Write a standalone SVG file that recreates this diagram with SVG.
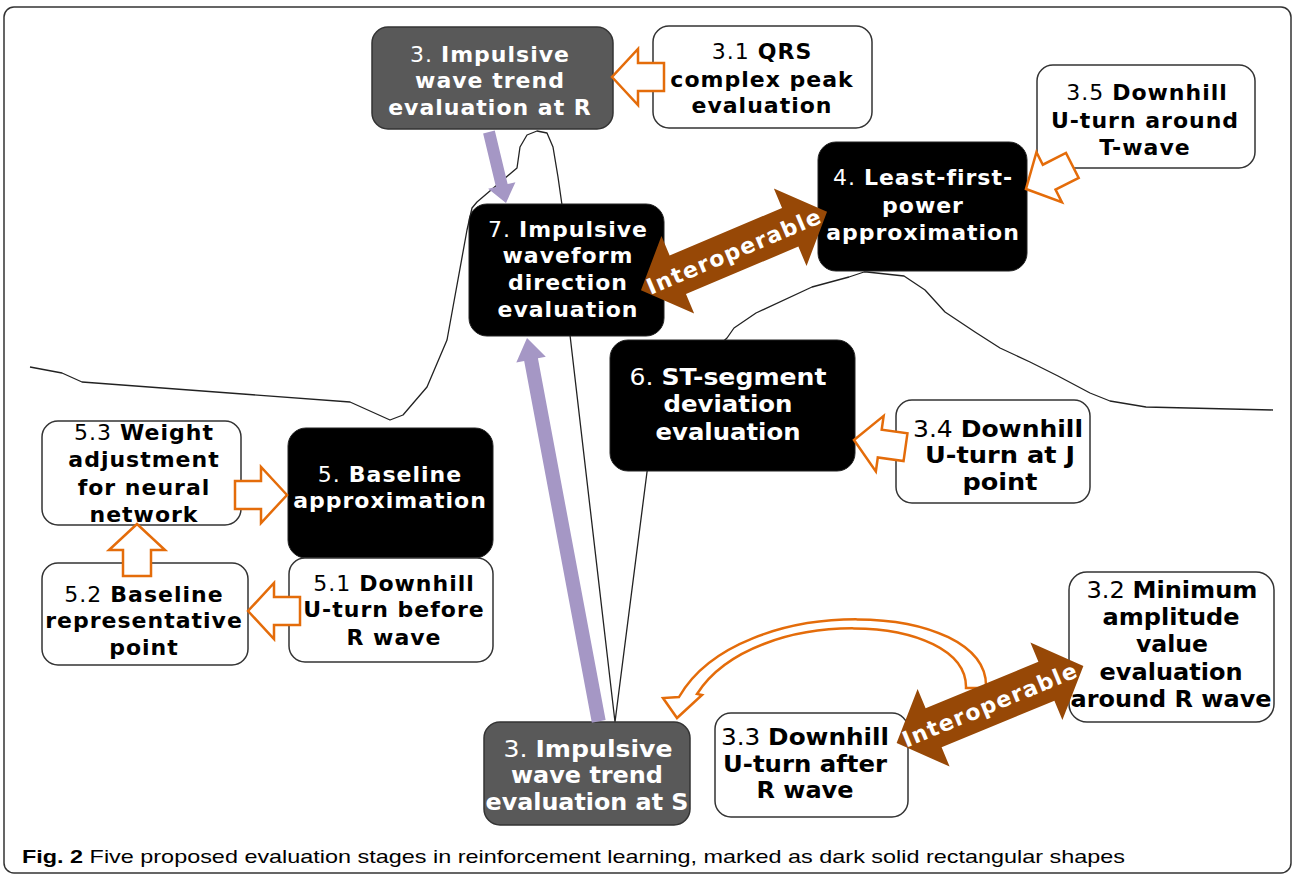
<svg xmlns="http://www.w3.org/2000/svg" xmlns:xlink="http://www.w3.org/1999/xlink" width="1295" height="876" viewBox="0 0 1295 876">
<style>
.bg{fill:#fff}
.frame{fill:none;stroke:#333;stroke-width:1.5}
.wb{fill:#fff;stroke:#333;stroke-width:1.5}
.db{fill:#595959;stroke:#333;stroke-width:1.5}
.bb{fill:#000;stroke:#222;stroke-width:1}
.t{font-family:"DejaVu Sans",Verdana,sans-serif;font-size:22px;font-weight:bold;letter-spacing:1px;text-anchor:middle}
.c{font-family:"DejaVu Sans",Verdana,sans-serif;font-size:23px;font-weight:bold;text-anchor:middle}
.n{font-weight:normal}
.w{fill:#fff}
.k{fill:#000}
.ecg{fill:none;stroke:#222;stroke-width:1.3;stroke-linejoin:round}
.oa{fill:#fff;stroke:#E46C0A;stroke-width:2.5;stroke-linejoin:miter}
.pa{fill:#A597C5}
.ba{fill:#974806}
.bt{font-family:"DejaVu Sans",Verdana,sans-serif;font-size:22px;font-weight:bold;letter-spacing:1.4px;fill:#fff;text-anchor:middle}
.cap{font-family:"Liberation Sans",Arial,sans-serif;font-size:19px;fill:#000}
</style>
<defs>
<path id="oarrow" d="M0,0 L-26,-28 L-26,-14 L-52,-14 L-52,14 L-26,14 L-26,28 Z"/>
<path id="dbl" d="M-101,0 L-61,-42 L-61,-21 L61,-21 L61,-42 L101,0 L61,42 L61,21 L-61,21 L-61,42 Z"/>
</defs>
<rect class="bg" x="0" y="0" width="1295" height="876"/>
<rect class="frame" x="4" y="7" width="1287" height="866" rx="10"/>

<g id="ecg-trace">
<polyline class="ecg" points="30,367 62,373 82,382 350,402 390,420 403,415 427,387 447,340 453,307 467,230 472,208 477,202 517,168 520,147 527,135 537,131 547,133 553,147 558,177 562,205 570,335 615,722 647,472 660,400 727,338 734,328 756,313 812,287 849,277 864,272 867,272 904,276 925,290 945,312 975,332 1000,348 1030,362 1058,376 1090,393 1110,401 1146,407 1273,410"/>
</g>

<g id="n3R">
<rect class="db" x="372" y="27" width="241" height="102" rx="16"/>
<text class="t w" x="490" y="62"><tspan class="n">3. </tspan>Impulsive</text>
<text class="t w" x="490" y="88">wave trend</text>
<text class="t w" x="490" y="115">evaluation at R</text>
</g>
<g id="n3-1">
<rect class="wb" x="653" y="26" width="219" height="102" rx="16"/>
<text class="t k" x="762" y="59"><tspan class="n">3.1 </tspan>QRS</text>
<text class="t k" x="762" y="87">complex peak</text>
<text class="t k" x="762" y="113">evaluation</text>
</g>
<g id="n7">
<rect class="bb" x="469" y="204" width="195" height="132" rx="18"/>
<text class="t w" x="568" y="237"><tspan class="n">7. </tspan>Impulsive</text>
<text class="t w" x="568" y="263">waveform</text>
<text class="t w" x="568" y="290">direction</text>
<text class="t w" x="568" y="317">evaluation</text>
</g>
<g id="n4">
<rect class="bb" x="818" y="142" width="209" height="129" rx="18"/>
<text class="t w" x="923" y="185"><tspan class="n">4. </tspan>Least-first-</text>
<text class="t w" x="923" y="213">power</text>
<text class="t w" x="923" y="240">approximation</text>
</g>
<g id="n3-5">
<rect class="wb" x="1037" y="65" width="218" height="103" rx="16"/>
<text class="t k" x="1147" y="100"><tspan class="n">3.5 </tspan>Downhill</text>
<text class="t k" x="1145" y="128">U-turn around</text>
<text class="t k" x="1145" y="155">T-wave</text>
</g>
<g id="n6">
<rect class="bb" x="610" y="340" width="245" height="131" rx="18"/>
<text class="c w" x="728" y="385" textLength="197" lengthAdjust="spacingAndGlyphs"><tspan class="n">6. </tspan>ST-segment</text>
<text class="c w" x="728" y="412" textLength="129" lengthAdjust="spacingAndGlyphs">deviation</text>
<text class="c w" x="728" y="440" textLength="145" lengthAdjust="spacingAndGlyphs">evaluation</text>
</g>
<g id="n3-4">
<rect class="wb" x="896" y="400" width="194" height="103" rx="16"/>
<text class="c k" x="998" y="437" textLength="170" lengthAdjust="spacingAndGlyphs"><tspan class="n">3.4 </tspan>Downhill</text>
<text class="c k" x="1000" y="463" textLength="150" lengthAdjust="spacingAndGlyphs">U-turn at J</text>
<text class="c k" x="1000" y="490" textLength="75" lengthAdjust="spacingAndGlyphs">point</text>
</g>
<g id="n5">
<rect class="bb" x="288" y="428" width="205" height="130" rx="18"/>
<text class="t w" x="390" y="482"><tspan class="n">5. </tspan>Baseline</text>
<text class="t w" x="390" y="508">approximation</text>
</g>
<g id="n5-3">
<rect class="wb" x="42" y="421" width="199" height="104" rx="16"/>
<text class="t k" x="144" y="440"><tspan class="n">5.3 </tspan>Weight</text>
<text class="t k" x="144" y="467">adjustment</text>
<text class="t k" x="144" y="495">for neural</text>
<text class="t k" x="144" y="522">network</text>
</g>
<g id="n5-2">
<rect class="wb" x="42" y="563" width="206" height="102" rx="16"/>
<text class="t k" x="144" y="602"><tspan class="n">5.2 </tspan>Baseline</text>
<text class="t k" x="144" y="628">representative</text>
<text class="t k" x="144" y="655">point</text>
</g>
<g id="n5-1">
<rect class="wb" x="289" y="558" width="204" height="104" rx="16"/>
<text class="t k" x="394" y="591"><tspan class="n">5.1 </tspan>Downhill</text>
<text class="t k" x="394" y="617">U-turn before</text>
<text class="t k" x="394" y="645">R wave</text>
</g>
<g id="n3S">
<rect class="db" x="484" y="722" width="206" height="103" rx="16"/>
<text class="c w" x="588" y="757" textLength="169" lengthAdjust="spacingAndGlyphs"><tspan class="n">3. </tspan>Impulsive</text>
<text class="c w" x="587" y="783" textLength="152" lengthAdjust="spacingAndGlyphs">wave trend</text>
<text class="c w" x="587" y="810" textLength="203" lengthAdjust="spacingAndGlyphs">evaluation at S</text>
</g>
<g id="n3-3">
<rect class="wb" x="715" y="713" width="193" height="104" rx="16"/>
<text class="c k" x="805" y="745" textLength="168" lengthAdjust="spacingAndGlyphs"><tspan class="n">3.3 </tspan>Downhill</text>
<text class="c k" x="805" y="772" textLength="164" lengthAdjust="spacingAndGlyphs">U-turn after</text>
<text class="c k" x="805" y="798" textLength="97" lengthAdjust="spacingAndGlyphs">R wave</text>
</g>
<g id="n3-2">
<rect class="wb" x="1069" y="572" width="205" height="150" rx="18"/>
<text class="c k" x="1172" y="598" textLength="171" lengthAdjust="spacingAndGlyphs"><tspan class="n">3.2 </tspan>Minimum</text>
<text class="c k" x="1171" y="625" textLength="137" lengthAdjust="spacingAndGlyphs">amplitude</text>
<text class="c k" x="1172" y="652" textLength="72" lengthAdjust="spacingAndGlyphs">value</text>
<text class="c k" x="1171" y="680" textLength="143" lengthAdjust="spacingAndGlyphs">evaluation</text>
<text class="c k" x="1171" y="707" textLength="201" lengthAdjust="spacingAndGlyphs">around R wave</text>
</g>

<g id="connectors">
<path class="pa" d="M0,0 L-18,-14 L-18,-6 L-73,-6 L-73,6 L-18,6 L-18,14 Z" transform="translate(506,203) rotate(76.5)"/>
<path class="pa" d="M0,0 L-22,-15 L-22,-7 L-390,-7 L-390,7 L-22,7 L-22,15 Z" transform="translate(527,338) rotate(-100.6)"/>
<use xlink:href="#oarrow" class="oa" transform="translate(612,77) rotate(180)"/>
<use xlink:href="#oarrow" class="oa" transform="translate(287,495)"/>
<use xlink:href="#oarrow" class="oa" transform="translate(137,524) rotate(-90)"/>
<use xlink:href="#oarrow" class="oa" transform="translate(248,611) rotate(180)"/>
<use xlink:href="#oarrow" class="oa" transform="translate(854,440) rotate(188)"/>
<use xlink:href="#oarrow" class="oa" transform="translate(1026,189) rotate(153)"/>
<path class="oa" d="M986,688 C990,600 740,590 679,697 L663,698 L677,718 L702,695 L697,694 C755,603 968,612 966,688 Z"/>
<g transform="translate(734,251) rotate(-22.9)">
<use xlink:href="#dbl" class="ba"/>
<text class="bt" x="0" y="8">Interoperable</text>
</g>
<g transform="translate(990,704.5) rotate(-22.4)">
<use xlink:href="#dbl" class="ba"/>
<text class="bt" x="0" y="8">Interoperable</text>
</g>
</g>

<text class="cap" x="22" y="863" textLength="1103" lengthAdjust="spacingAndGlyphs"><tspan font-weight="bold">Fig. 2</tspan> Five proposed evaluation stages in reinforcement learning, marked as dark solid rectangular shapes</text>
</svg>
